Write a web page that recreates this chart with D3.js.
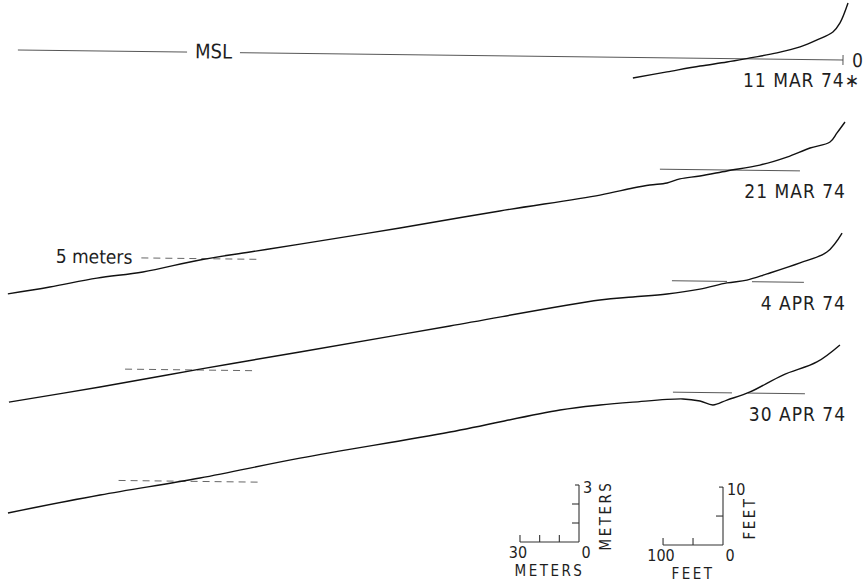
<!DOCTYPE html>
<html><head><meta charset="utf-8">
<script src="https://cdn.jsdelivr.net/npm/d3@7"></script>
<style>
body{margin:0;background:#fff}
svg text{font-family:"Liberation Sans Narrow","DejaVu Sans Condensed","Arial Narrow",sans-serif;fill:#1e1e1e}
</style>
</head><body>
<svg id="c" width="867" height="583"></svg>
<script>
// ---- data (distance seaward of benchmark in metres, elevation re MSL in metres) ----
const surveyDates = ["11 MAR 74\u2217", "21 MAR 74", "4 APR 74", "30 APR 74"];

const dist11Mar = [106.7, 89.4, 72.6, 59.0, 47.3, 33.6, 21.9, 13.3, 5.3, 1.75, -2.2];
const elev11Mar = [-1.08, -0.74, -0.41, -0.18, 0.05, 0.33, 0.66, 1.04, 1.47, 1.95, 3.0];

const dist21Mar = [423.1, 401.8, 377.9, 354.6, 325.7, 300.3, 274.9, 224.2, 173.5, 122.7, 106.0, 97.4, 88.7, 82.2, 72.0, 58.3, 41.6, 27.9, 16.2, 6.1, 2.6, -1.4];
const elev21Mar = [-6.98, -6.59, -6.09, -5.74, -5.07, -4.62, -4.17, -3.26, -2.30, -1.40, -1.01, -0.84, -0.72, -0.50, -0.33, -0.05, 0.28, 0.72, 1.21, 1.54, 2.02, 2.60];

const dist4Apr = [421.9, 375.7, 325.0, 274.3, 198.2, 122.1, 105.3, 88.0, 71.3, 57.6, 47.5, 37.3, 20.6, 7.0, -0.6];
const elev4Apr = [-6.81, -5.96, -4.95, -3.99, -2.52, -1.06, -0.88, -0.70, -0.42, -0.08, 0.08, 0.42, 1.02, 1.61, 2.62];

const dist30Apr = [421.7, 375.0, 324.3, 273.6, 197.5, 141.7, 121.4, 104.7, 79.3, 70.6, 64.0, 56.9, 45.2, 28.6, 11.4, -0.2];
const elev30Apr = [-6.78, -5.78, -4.82, -3.71, -2.24, -1.01, -0.72, -0.55, -0.35, -0.45, -0.65, -0.38, 0.06, 0.97, 1.68, 2.59];

// MSL reference segments per survey [from, to] in metres
const mslSegments = [
  [[0, 306.6], [333.5, 419.5]],
  [[21.2, 92.4]],
  [[18.5, 44.9], [57.6, 85.6]],
  [[17.3, 46.3], [54.4, 84.4]]
];
// 5-metre depth reference (dashed) per survey
const depthLevel = -5;
const depthSegments = [null, [297.0, 358.0], [298.5, 364.0], [295.0, 366.5]];

const meterTicksH = [0, 10, 20, 30];
const meterTicksV = [1, 2, 3];
const feetTicksH = [0, 50, 100];
const feetTicksV = [5, 10];

// ---- layout ----
const svg = d3.select("#c");
const PX_PER_M_H = 1.967, PX_PER_M_V = 19, PANEL_GAP = 111.4;
const X0 = 843, Y0 = 60, TILT = 0.694;

const x = d3.scaleLinear().domain([0, 100]).range([X0, X0 - 100 * PX_PER_M_H]);
const yFor = k => d3.scaleLinear().domain([0, 1]).range([Y0 + k * PANEL_GAP, Y0 + k * PANEL_GAP - PX_PER_M_V]);

const profiles = [
  [dist11Mar, elev11Mar], [dist21Mar, elev21Mar], [dist4Apr, elev4Apr], [dist30Apr, elev30Apr]
];

const g = svg.append("g").attr("transform", `rotate(${TILT},${X0},${Y0})`);

profiles.forEach(([ds, es], k) => {
  const y = yFor(k);
  const pts = ds.map((d, i) => [d, es[i]]);
  mslSegments[k].forEach(seg => {
    g.append("line").attr("x1", x(seg[0])).attr("x2", x(seg[1]))
      .attr("y1", y(0)).attr("y2", y(0))
      .attr("stroke", "#444").attr("stroke-width", 0.9);
  });
  if (depthSegments[k]) {
    g.append("line").attr("x1", x(depthSegments[k][0])).attr("x2", x(depthSegments[k][1]))
      .attr("y1", y(depthLevel)).attr("y2", y(depthLevel))
      .attr("stroke", "#555").attr("stroke-width", 0.9).attr("stroke-dasharray", "7,5");
  }
  const line = d3.line().x(p => x(p[0])).y(p => y(p[1])).curve(d3.curveCatmullRom.alpha(0.5));
  g.append("path").attr("d", line(pts)).attr("fill", "none")
    .attr("stroke", "#111").attr("stroke-width", 1.4);
});

// first-panel annotations
const y0s = yFor(0);
g.append("line").attr("x1", x(0)).attr("x2", x(0)).attr("y1", y0s(0) - 5).attr("y2", y0s(0) + 5)
  .attr("stroke", "#444").attr("stroke-width", 0.9);
g.append("text").attr("x", x(0) + 9).attr("y", y0s(0) + 7).attr("text-anchor", "start")
  .attr("font-size", 19).text("0");
g.append("text").attr("x", x(320)).attr("y", y0s(0) + 6).attr("text-anchor", "middle")
  .attr("font-size", 20).text("MSL");
const y1s = yFor(1);
g.append("text").attr("x", x(depthSegments[1][1]) - 4).attr("y", y1s(depthLevel) + 6).attr("text-anchor", "end")
  .attr("font-size", 19).text("5 meters");

// date labels
surveyDates.forEach((lab, k) => {
  const y = yFor(k);
  svg.append("text").attr("x", k === 0 ? 860 : 846).attr("y", y(0) + 27)
    .attr("text-anchor", "end").attr("font-size", 19).attr("letter-spacing", 1).text(lab);
});

// ---- scale bars ----
function scaleBar(hScale, vScale, hTicks, vTicks, hLabels, vLabel, unit) {
  const b = svg.append("g");
  const ln = (x1, y1, x2, y2) => b.append("line").attr("x1", x1).attr("y1", y1).attr("x2", x2).attr("y2", y2)
    .attr("stroke", "#333").attr("stroke-width", 1.1);
  const hMax = hScale.domain()[1], vMax = vScale.domain()[1];
  ln(hScale(0), vScale(0), hScale(hMax), vScale(0));
  ln(hScale(0), vScale(0), hScale(0), vScale(vMax));
  hTicks.filter(t => t > 0).forEach(t => ln(hScale(t), vScale(0), hScale(t), vScale(0) - 7));
  vTicks.forEach(t => ln(hScale(0), vScale(t), hScale(0) - (t === vMax ? 4 : 7), vScale(t)));
  b.append("text").attr("x", hScale(hMax) - 2).attr("y", vScale(0) + 16).attr("text-anchor", "middle")
    .attr("font-size", 16).text(hLabels[1]);
  b.append("text").attr("x", hScale(0) + 7).attr("y", vScale(0) + 16).attr("text-anchor", "middle")
    .attr("font-size", 16).text(hLabels[0]);
  b.append("text").attr("x", (hScale(0) + hScale(hMax)) / 2).attr("y", vScale(0) + 34).attr("text-anchor", "middle")
    .attr("font-size", 15).attr("letter-spacing", 2.5).text(unit);
  b.append("text").attr("x", hScale(0) + 4).attr("y", vScale(vMax) + 8).attr("text-anchor", "start")
    .attr("font-size", 16).text(vLabel);
  b.append("text").attr("transform", `translate(${hScale(0) + 32},${(vScale(0) + vScale(vMax)) / 2 + 2}) rotate(-90)`)
    .attr("text-anchor", "middle").attr("font-size", 15).attr("letter-spacing", 2.5).text(unit);
}
const mH = d3.scaleLinear().domain([0, 30]).range([579, 579 - 30 * PX_PER_M_H]);
const mV = d3.scaleLinear().domain([0, 3]).range([542, 542 - 3 * PX_PER_M_V]);
scaleBar(mH, mV, meterTicksH, meterTicksV, ["0", "30"], "3", "METERS");
const fH = d3.scaleLinear().domain([0, 100]).range([723, 723 - 100 * 0.3048 * PX_PER_M_H]);
const fV = d3.scaleLinear().domain([0, 10]).range([545, 545 - 10 * 0.3048 * PX_PER_M_V]);
scaleBar(fH, fV, feetTicksH, feetTicksV, ["0", "100"], "10", "FEET");
</script>
</body></html>
